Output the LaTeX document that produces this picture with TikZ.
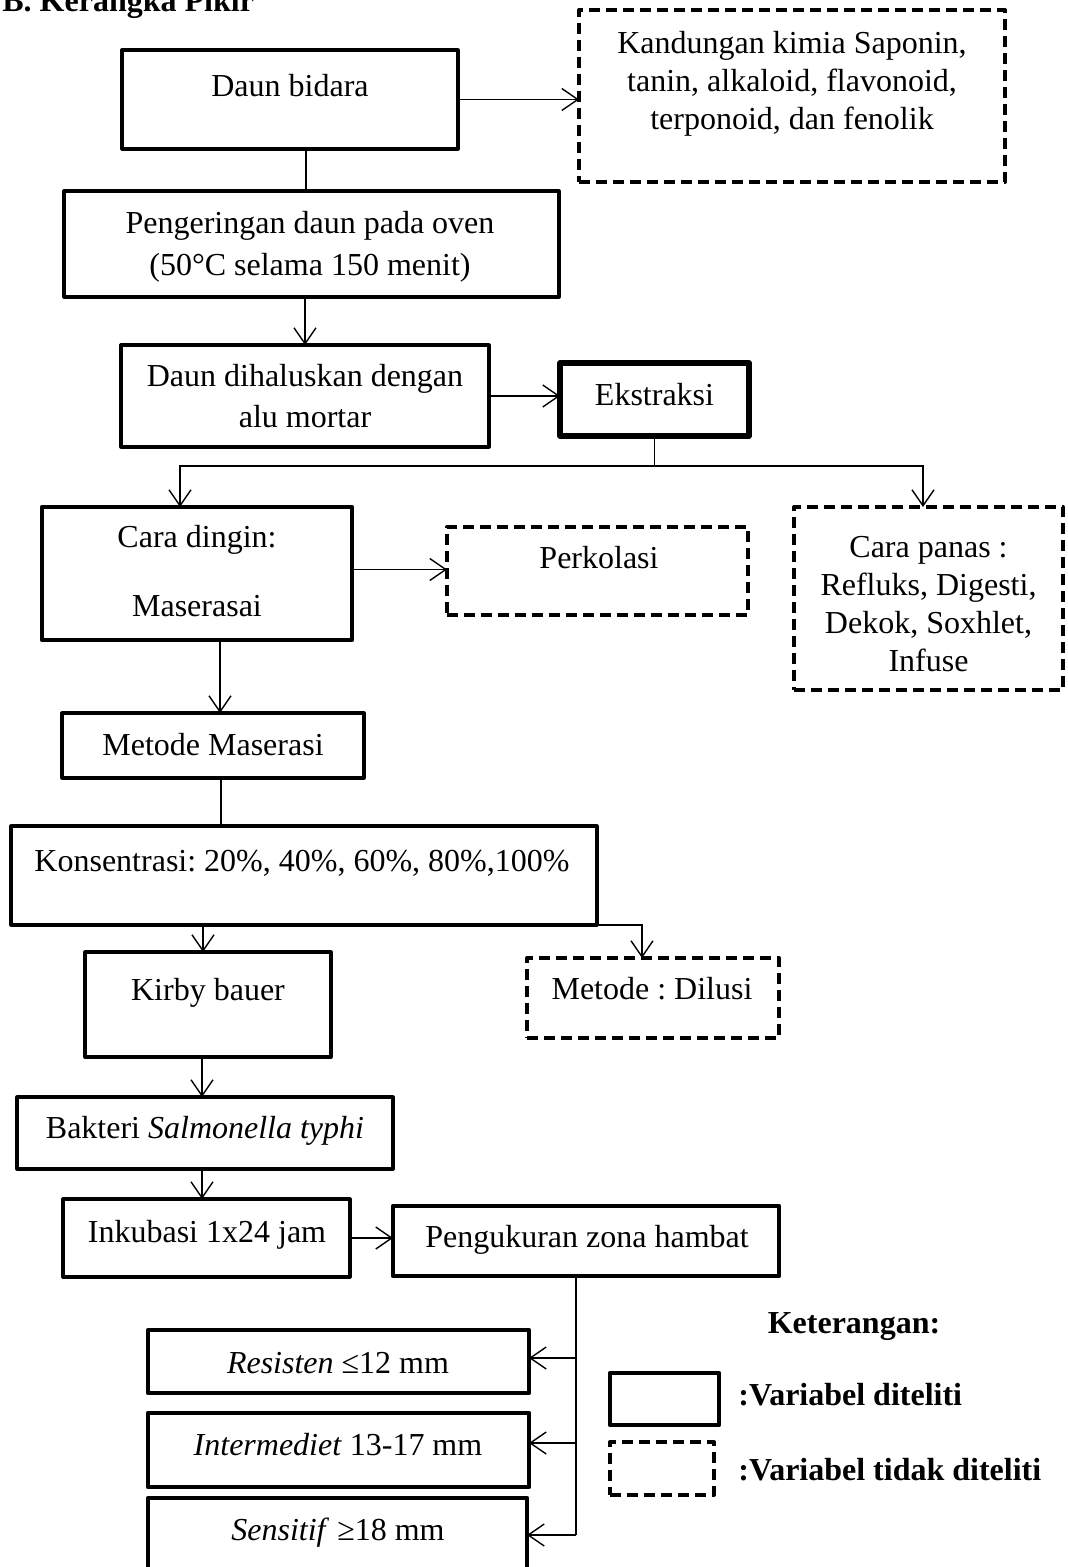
\documentclass[tikz,border=0pt]{standalone}
\usepackage{fontspec}
\setmainfont{Liberation Serif}
\usetikzlibrary{arrows.meta}
\frenchspacing

\begin{document}
\begin{tikzpicture}[x=0.5pt, y=-0.5pt,
        font=\fontsize{16pt}{19pt}\selectfont,
        box/.style={draw, line width=1.6pt, line join=round, inner sep=0pt, outer sep=0pt},
        thickbox/.style={box, line width=2.4pt},
        dashbox/.style={draw, line width=2pt, dash pattern=on 5.5pt off 3pt, line join=round, inner sep=0pt, outer sep=0pt},
        txt/.style={anchor=base, inner sep=0pt},
        lines/.style={align=center, inner sep=0pt},
        conn/.style={line width=0.7pt},
        arr/.style={conn, -{Straight Barb[length=8pt,width=11pt]}}]
        \useasboundingbox (0,0) rectangle (1068,1567);
        \clip (0,0) rectangle (1068,1567);

        \node[txt, anchor=base west] (judul) at (2,12) {\bfseries B. Kerangka Pikir};

        % bagian atas
        \node[box, minimum width=168pt, minimum height=49.5pt] (daun) at (290,99.5) {};
        \node[txt] (daun-t) at (290,97) {Daun bidara};

        \node[dashbox, minimum width=213pt, minimum height=86pt] (kandungan) at (792,96) {};
        \node[lines] (kandungan-t) at (792,84) {Kandungan kimia Saponin,\\ tanin, alkaloid, flavonoid,\\ terponoid, dan fenolik};

        \node[box, minimum width=247.5pt, minimum height=53pt] (kering) at (311.5,244) {};
        \node[lines] (kering-t) at (310,246.5) {Pengeringan daun pada oven\\[2pt] (50°C selama 150 menit)};

        \node[box, minimum width=184pt, minimum height=51pt] (halus) at (305,396) {};
        \node[lines] (halus-t) at (305,396.5) {Daun dihaluskan dengan\\[1.5pt] alu mortar};

        \node[thickbox, line width=2.6pt, minimum width=94.5pt, minimum height=36.5pt] (ekstraksi) at (654.5,399.5) {};
        \node[txt] (ekstraksi-t) at (654.5,405) {Ekstraksi};

        % cara ekstraksi
        \node[thickbox, minimum width=155pt, minimum height=66.5pt] (dingin) at (197,573.5) {};
        \node[lines] (dingin-t) at (197,571.5) {Cara dingin:\\[15.5pt] Maserasai};

        \node[dashbox, minimum width=150.5pt, minimum height=44pt] (perkolasi) at (597.5,571) {};
        \node[txt] (perkolasi-t) at (599,568) {Perkolasi};

        \node[dashbox, minimum width=134.5pt, minimum height=91.5pt] (panas) at (928.5,598.5) {};
        \node[lines] (panas-t) at (928.5,604.5) {Cara panas :\\ Refluks, Digesti,\\ Dekok, Soxhlet,\\ Infuse};

        \node[box, minimum width=151pt, minimum height=32.5pt] (metode) at (213,745.5) {};
        \node[txt] (metode-t) at (213,755) {Metode Maserasi};

        \node[box, minimum width=293pt, minimum height=49.5pt] (konsentrasi) at (304,875.5) {};
        \node[txt] (konsentrasi-t) at (302,871) {Konsentrasi: 20\%, 40\%, 60\%, 80\%,100\%};

        \node[box, minimum width=123pt, minimum height=52.5pt] (kirby) at (208,1004.5) {};
        \node[txt] (kirby-t) at (208,1000) {Kirby bauer};

        \node[dashbox, minimum width=126pt, minimum height=40pt] (dilusi) at (653,998) {};
        \node[txt] (dilusi-t) at (652,999) {Metode : Dilusi};

        % pengujian
        \node[box, minimum width=188pt, minimum height=36pt] (bakteri) at (205,1133) {};
        \node[txt] (bakteri-t) at (205,1138) {Bakteri \textit{Salmonella typhi}};

        \node[box, minimum width=143.5pt, minimum height=39pt] (inkubasi) at (206.5,1238) {};
        \node[txt] (inkubasi-t) at (207,1242) {Inkubasi 1x24 jam};

        \node[thickbox, minimum width=193pt, minimum height=35pt] (ukur) at (586,1241) {};
        \node[txt] (ukur-t) at (587,1247) {Pengukuran zona hambat};

        \node[thickbox, minimum width=190.5pt, minimum height=31.5pt] (resisten) at (338.5,1361.5) {};
        \node[txt] (resisten-t) at (338,1373) {\textit{Resisten} ≤12 mm};

        \node[thickbox, minimum width=190.5pt, minimum height=37pt] (intermediet) at (338.5,1450) {};
        \node[txt] (intermediet-t) at (338,1455) {\textit{Intermediet} 13-17 mm};

        \node[thickbox, minimum width=189.5pt, minimum height=51pt] (sensitif) at (337.5,1549) {};
        \node[txt] (sensitif-t) at (338,1540) {\textit{Sensitif} ≥18 mm};

        % keterangan
        \node[txt] (ket) at (854,1333) {\bfseries Keterangan:};
        \node[thickbox, minimum width=54.5pt, minimum height=26pt] (ketA) at (664.5,1399) {};
        \node[dashbox, minimum width=52pt, minimum height=26.5pt] (ketB) at (662,1468.5) {};
        \node[txt, anchor=base west] (ketA-t) at (738,1405) {\bfseries :Variabel diteliti};
        \node[txt, anchor=base west] (ketB-t) at (738,1480) {\bfseries :Variabel tidak diteliti};

        % titik bantu
        \coordinate (kiri) at (180,466);
        \coordinate (kanan) at (923,466);
        \coordinate (daunB) at ([xshift=8pt]daun.south);
        \coordinate (dinginE) at ([yshift=2pt]dingin.east);
        \coordinate (dinginB) at ([xshift=11.5pt]dingin.south);
        \coordinate (metodeB) at ([xshift=4pt]metode.south);
        \coordinate (kirbyA) at ([xshift=-2.5pt]kirby.north);
        \coordinate (kirbyB) at ([xshift=-3pt]kirby.south);
        \coordinate (bakteriB) at ([xshift=-1.5pt]bakteri.south);
        \coordinate (dilusiA) at ([xshift=-5.5pt]dilusi.north);
        \coordinate (ukurB) at ([xshift=-5pt]ukur.south);
        \coordinate (r1) at (576,1358);
        \coordinate (r2) at (576,1443);
        \coordinate (r3) at (576,1535);

        % garis
        \draw[arr] (daun.east) -- (daun.east -| kandungan.west);
        \draw[conn] (daunB) -- (daunB |- kering.north);
        \draw[arr] (kering.south -| halus.north) -- (halus.north);
        \draw[arr] (halus.east) -- (halus.east -| ekstraksi.west);
        \draw[arr] (ekstraksi.south) |- (kiri) -- (kiri |- dingin.north);
        \draw[arr] (ekstraksi.south) |- (kanan) -- (kanan |- panas.north);
        \draw[arr] (dinginE) -- (dinginE -| perkolasi.west);
        \draw[arr] (dinginB) -- (dinginB |- metode.north);
        \draw[conn] (metodeB) -- (metodeB |- konsentrasi.north);
        \draw[arr] (kirbyA |- konsentrasi.south) -- (kirbyA);
        \draw[arr] (konsentrasi.south east) -| (dilusiA);
        \draw[arr] (kirbyB) -- (kirbyB |- bakteri.north);
        \draw[arr] (bakteriB) -- (bakteriB |- inkubasi.north);
        \draw[arr] (inkubasi.east) -- (inkubasi.east -| ukur.west);
        \draw[conn] (ukurB) -- (r3);
        \draw[arr] (r1) -- (r1 -| resisten.east);
        \draw[arr] (r2) -- (r2 -| intermediet.east);
        \draw[arr] (r3) -- (r3 -| sensitif.east);
    \end{tikzpicture}
\end{document}
